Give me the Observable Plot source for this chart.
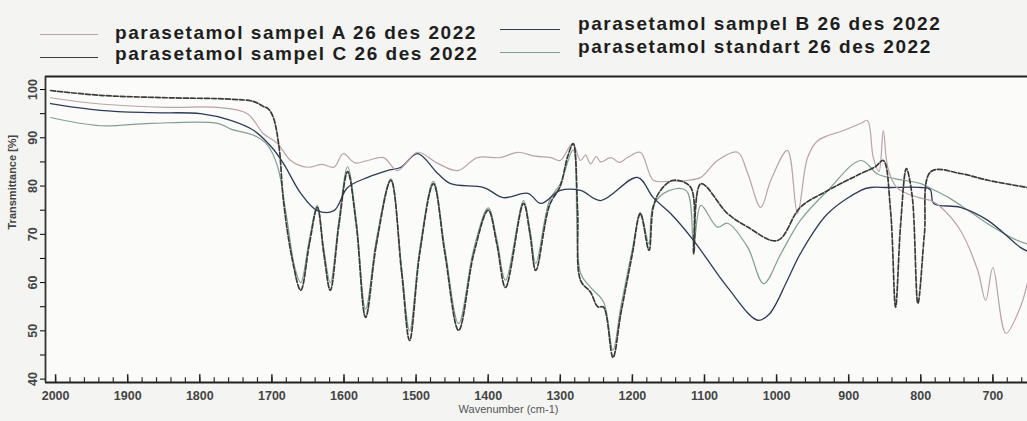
<!DOCTYPE html>
<html>
<head>
<meta charset="utf-8">
<script src="https://cdn.jsdelivr.net/npm/d3@7"></script>
<script src="https://cdn.jsdelivr.net/npm/@observablehq/plot@0.6"></script>
<style>
  html, body { margin: 0; padding: 0; background: #f4f4f2; }
  #wrap { position: relative; width: 1027px; height: 421px; overflow: hidden; font-family: "Liberation Sans", Arial, sans-serif; }
  .lg { position: absolute; font-weight: bold; font-size: 19px; letter-spacing: 1.55px; color: #1e1e1e; white-space: nowrap; line-height: 19px; }
  .sw { position: absolute; height: 0; border-top-width: 1.5px; border-top-style: solid; }
  #chart { position: absolute; left: 0; top: 68px; }
</style>
</head>
<body>
<div id="wrap">
  <div id="legend"></div>
  <div id="chart"></div>
</div>
<script>
// Series names (legend)
const seriesNames = [
  "parasetamol sampel A 26 des 2022",
  "parasetamol sampel C 26 des 2022",
  "parasetamol sampel B 26 des 2022",
  "parasetamol standart 26 des 2022"
];
const seriesColors = ["#b7a3ab", "#3a3a3a", "#2e3b57", "#82a08f"];

// x tick labels / y tick labels
const xTickLabels = [2000, 1900, 1800, 1700, 1600, 1500, 1400, 1300, 1200, 1100, 1000, 900, 800, 700];
const yTickLabels = [40, 50, 60, 70, 80, 90, 100];

// [wavenumber cm-1, transmittance %]
const sampelA = [[2007,98.3],[1938,97.0],[1845,96.3],[1775,96.3],[1734,95.0],[1712,90.9],[1692,88.8],[1674,85.3],[1650,83.9],[1630,84.5],[1614,83.9],[1601,86.7],[1585,84.8],[1567,85.3],[1545,85.9],[1526,83.2],[1498,87.0],[1470,84.7],[1442,83.2],[1415,85.9],[1383,85.9],[1359,87.0],[1335,86.2],[1313,85.9],[1300,85.3],[1283,88.8],[1272,85.3],[1265,86.4],[1258,84.6],[1250,86.1],[1244,85.0],[1230,85.9],[1218,84.9],[1207,85.9],[1189,87.0],[1171,81.2],[1150,81.0],[1123,81.2],[1105,81.8],[1082,85.3],[1054,87.0],[1040,82.6],[1022,75.6],[1008,81.2],[985,87.4],[971,74.3],[957,85.9],[943,89.4],[907,91.5],[883,93.0],[874,93.6],[866,86],[858,83],[852,91.5],[846,84],[835,80],[820,78.5],[800,77.5],[786,77],[772,75.6],[745,70.8],[721,62.5],[710,56.3],[700,63.1],[682,49.5],[662,54.9],[652,60]];

const sampelB = [[2007,97.1],[1938,95.7],[1868,95.2],[1799,95.0],[1757,93.6],[1725,91.5],[1700,88],[1684,84.7],[1660,78.5],[1637,74.9],[1614,74.9],[1595,79.7],[1567,81.8],[1540,83.2],[1521,83.9],[1498,86.7],[1470,82.6],[1452,80.5],[1406,79.7],[1379,77.6],[1345,78.5],[1327,76.4],[1300,79.1],[1272,79.1],[1244,77.0],[1193,81.8],[1171,77.6],[1147,74.3],[1115,68.7],[1068,59.0],[1026,52.2],[1010,53.5],[985,60.5],[967,66.0],[929,74.3],[883,79.1],[870,79.7],[845,79.7],[800,79.7],[787,79.3],[782,76.4],[745,75.6],[707,72.9],[662,67.3],[652,66.5]];

const sampelC = [[2007,99.8],[1938,98.8],[1845,98.3],[1757,98.0],[1725,97.5],[1712,96.5],[1705,96],[1698,94.2],[1690,88],[1684,77],[1672,65],[1660,58.4],[1648,68],[1637,75.6],[1628,66],[1619,58.4],[1607,72],[1595,83],[1583,72],[1570,52.8],[1555,68],[1535,81.2],[1520,62],[1509,48.0],[1495,66],[1476,80.5],[1460,66],[1441,50.1],[1420,66],[1400,75],[1388,68],[1376,59],[1351,76.4],[1342,70],[1334,62.5],[1315,76],[1300,80],[1290,86],[1282,88.8],[1276,75],[1272,60.5],[1258,58],[1248,55],[1240,54.9],[1227,44.5],[1216,53.6],[1200,66],[1189,74.3],[1177,66.7],[1171,75.6],[1161,79.1],[1143,81.2],[1119,79.7],[1115,66],[1105,80.5],[1068,74.3],[1040,71.5],[999,68.7],[967,75.6],[930,79],[883,82.6],[863,84],[852,85.3],[842,75],[835,54.9],[828,72],[820,83.6],[812,78],[804,55.7],[795,70],[786,83],[745,82.6],[707,81.2],[652,79.7]];

const standart = [[2007,94.2],[1938,92.5],[1868,93.0],[1775,93.0],[1757,91.8],[1725,90.5],[1706,88.5],[1692,84],[1680,74],[1668,63],[1660,60],[1648,69],[1637,76],[1628,67],[1619,60],[1607,73],[1595,84],[1583,73],[1570,54.5],[1555,69],[1535,81.5],[1520,63],[1509,50],[1495,67],[1476,81],[1460,67],[1441,51.5],[1420,67],[1400,75.5],[1388,69],[1376,60.5],[1351,77],[1342,71],[1334,64],[1315,77],[1300,80.5],[1282,87.5],[1272,62],[1258,59],[1240,56],[1227,46],[1216,55],[1200,67],[1189,74.5],[1177,68],[1171,76],[1150,79],[1125,79],[1115,68],[1105,76],[1082,71.5],[1068,72.3],[1040,67.3],[1018,59.8],[994,66],[967,72.9],[929,79.1],[883,85.3],[860,82.5],[835,81.5],[800,80.5],[786,79.5],[760,77.5],[730,74.5],[700,71.5],[670,69],[652,68]];

const xDomain = [2014, 652];
const yDomain = [39.3, 102.7];

// legend
const legendItems = [
  {name: seriesNames[0], color: seriesColors[0], lx: 40, lw: 58, ly: 34, tx: 115, ty: 23},
  {name: seriesNames[1], color: seriesColors[1], lx: 40, lw: 58, ly: 57, tx: 115, ty: 44},
  {name: seriesNames[2], color: seriesColors[2], lx: 500, lw: 60, ly: 29, tx: 578, ty: 14},
  {name: seriesNames[3], color: seriesColors[3], lx: 500, lw: 60, ly: 52, tx: 578, ty: 37}
];
const legend = document.getElementById("legend");
for (const it of legendItems) {
  const s = document.createElement("div");
  s.className = "sw";
  s.style.left = it.lx + "px"; s.style.top = it.ly + "px"; s.style.width = it.lw + "px";
  s.style.borderTopColor = it.color;
  legend.appendChild(s);
  const t = document.createElement("div");
  t.className = "lg";
  t.style.left = it.tx + "px"; t.style.top = it.ty + "px";
  t.textContent = it.name;
  legend.appendChild(t);
}

const minorX = d3.range(2000, 650, -20);
const yMinor = d3.range(40, 101, 5);
const crv = "catmull-rom";

const chart = Plot.plot({
  width: 1027,
  height: 353,
  marginTop: 8,
  marginBottom: 39,
  marginLeft: 45,
  marginRight: 0,
  style: {fontFamily: "Liberation Sans, Arial, sans-serif", background: "transparent"},
  x: {domain: xDomain, label: null},
  y: {domain: yDomain, label: null},
  marks: [
    Plot.frame({fill: "#fbfbfa", stroke: "none"}),
    Plot.line(standart, {x: d => d[0], y: d => d[1], stroke: seriesColors[3], strokeWidth: 1.2, curve: crv}),
    Plot.line(sampelB, {x: d => d[0], y: d => d[1], stroke: seriesColors[2], strokeWidth: 1.3, curve: crv}),
    Plot.line(sampelA, {x: d => d[0], y: d => d[1], stroke: seriesColors[0], strokeWidth: 1.2, curve: crv}),
    Plot.line(sampelC, {x: d => d[0], y: d => d[1], stroke: seriesColors[1], strokeWidth: 1.7, strokeDasharray: "5,2", curve: crv}),
    // minor & major x ticks pointing up from the bottom axis
    Plot.ruleX(minorX, {y1: yDomain[0], y2: yDomain[0] + 1.0, stroke: "#333", strokeWidth: 1.2}),
    Plot.ruleX(xTickLabels, {y1: yDomain[0], y2: yDomain[0] + 1.6, stroke: "#222", strokeWidth: 1.5}),
    Plot.axisX({ticks: xTickLabels, tickSize: 0, tickPadding: 9, tickFormat: d => String(d), fontSize: 12.5, fontWeight: "bold", fill: "#444"}),
    Plot.axisY({ticks: yMinor, tickSize: 5, tickFormat: d => (d % 10 === 0 ? String(d) : ""), tickRotate: -90, fontSize: 12.5, fontWeight: "bold", fill: "#444", tickPadding: 4}),
    // frame lines
    Plot.ruleY([yDomain[1]], {stroke: "#222", strokeWidth: 2.2}),
    Plot.ruleY([yDomain[0]], {stroke: "#222", strokeWidth: 2}),
    Plot.ruleX([xDomain[0]], {stroke: "#333", strokeWidth: 1.8}),
    Plot.text(["Transmittance [%]"], {frameAnchor: "left", dx: -33, dy: 0, rotate: -90, fontSize: 11, fontWeight: "bold", fill: "#444"}),
    Plot.text(["Wavenumber (cm-1)"], {frameAnchor: "bottom", dx: -28, dy: 30, fontSize: 11, fill: "#555"})
  ]
});
document.getElementById("chart").appendChild(chart);
</script>
</body>
</html>
